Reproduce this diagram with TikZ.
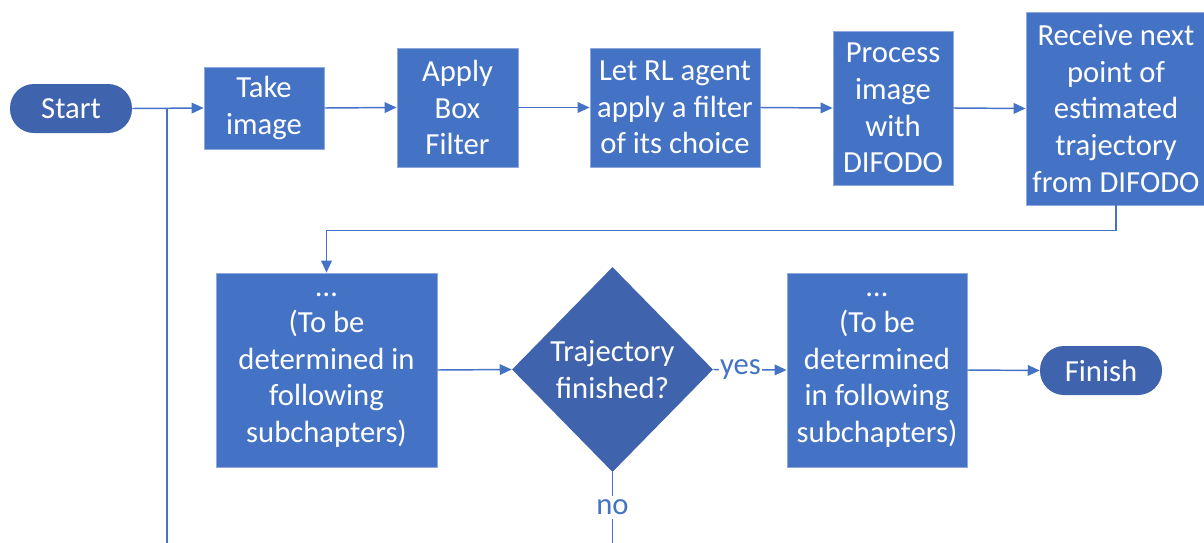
\documentclass[tikz,border=0pt]{standalone}
\usepackage{fontspec}
\setmainfont{Carlito}
\usetikzlibrary{shapes.geometric,arrows.meta}
\definecolor{boxblue}{HTML}{4472C4}
\definecolor{darkblue}{HTML}{3F64AD}
\definecolor{edgeblue}{HTML}{8EA9DB}
\definecolor{lineblue}{HTML}{4472C4}
\tikzset{
  lbl/.style={font=\fontsize{23pt}{27.4pt}\selectfont, text=white, align=center},
  procbox/.style={lbl, rectangle, fill=boxblue, draw=edgeblue, line width=0.6pt, inner sep=0pt},
  pill/.style={lbl, rectangle, rounded corners=18pt, fill=darkblue, inner sep=0pt,
    minimum width=122*0.75pt, minimum height=49*0.75pt},
  decision/.style={lbl, diamond, fill=darkblue, inner sep=0pt,
    minimum width=201*0.75pt, minimum height=205*0.75pt},
  conn/.style={draw=lineblue, line width=1.1pt},
  arr/.style={conn, -{Triangle[length=9pt,width=8pt]}},
  edgelbl/.style={font=\fontsize{23pt}{26pt}\selectfont, text=lineblue, fill=white, inner sep=1pt}
}
\begin{document}
\begin{tikzpicture}[x=0.75pt,y=-0.75pt]
\useasboundingbox (0,0) rectangle (1204,543);
\node[pill] (start) at (71,108.5) {Start};
\node[procbox, minimum width=120*0.75pt, minimum height=82*0.75pt] (take) at (264,108) {Take\\image};
\node[procbox, minimum width=121*0.75pt, minimum height=119*0.75pt] (box) at (457.5,107.5) {Apply\\Box\\Filter};
\node[procbox, minimum width=170*0.75pt, minimum height=119*0.75pt] (rl) at (675,107.5) {Let RL agent\\apply a filter\\of its choice};
\node[procbox, minimum width=120*0.75pt, minimum height=154*0.75pt] (proc) at (893,108) {Process\\image\\with\\DIFODO};
\node[procbox, minimum width=180*0.75pt, minimum height=193*0.75pt] (recv) at (1116,108.5) {Receive next\\point of\\estimated\\trajectory\\from DIFODO};
\node[procbox, minimum width=221*0.75pt, minimum height=194*0.75pt] (det1) at (326.5,370) {…\\(To be\\determined in\\following\\subchapters)};
\node[decision] (dec) at (612.5,369.5) {Trajectory\\finished?};
\node[procbox, minimum width=180*0.75pt, minimum height=194*0.75pt] (det2) at (877,370) {…\\(To be\\determined\\in following\\subchapters)};
\node[pill] (finish) at (1101,370.5) {Finish};
\coordinate (loopend) at (167,543);
\coordinate (noend) at (612.5,543);

\draw[arr] (start.east) -- (take.west);
\draw[conn] (loopend) -- (loopend |- start.east);
\draw[arr] (take.east) -- (box.west);
\draw[arr] (box.east) -- (rl.west);
\draw[arr] (rl.east) -- (proc.west);
\draw[arr] (proc.east) -- (recv.west);
\draw[arr] (recv.south) -- ++(0,25) -| (det1.north);
\draw[arr] (det1.east) -- (dec.west);
\draw[arr] (dec.east) -- node[edgelbl, pos=0.37] {yes} (det2.west);
\draw[arr] (det2.east) -- (finish.west);
\draw[conn] (dec.south) -- node[edgelbl, pos=0.5, inner sep=3pt] {no} (noend);
\end{tikzpicture}
\end{document}
